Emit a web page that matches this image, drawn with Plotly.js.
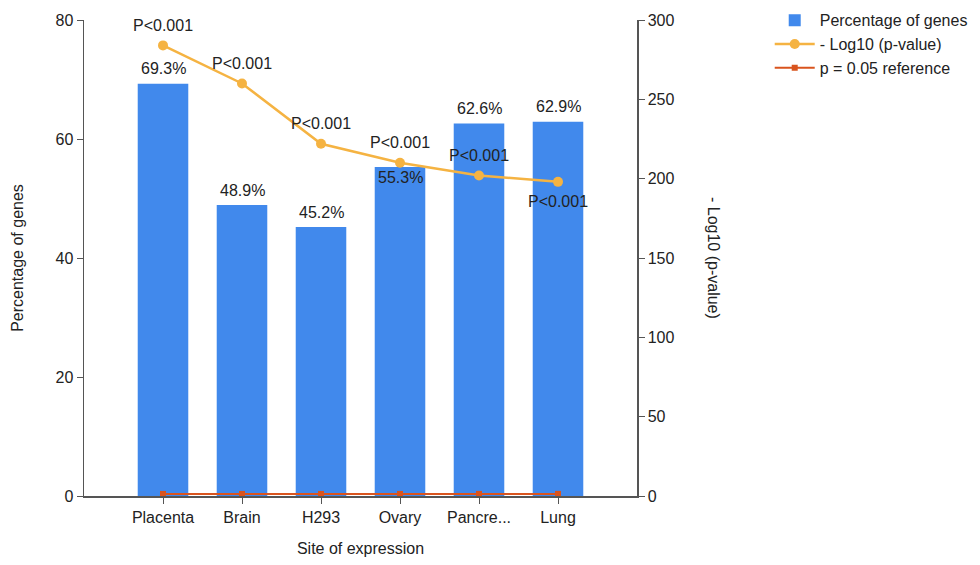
<!DOCTYPE html>
<html>
<head>
<meta charset="utf-8">
<script src="https://cdn.plot.ly/plotly-3.0.1.min.js"></script>
<style>html,body{margin:0;padding:0;background:#fff;}#chart{width:980px;height:565px;}</style>
</head>
<body>
<div id="chart"></div>
<script>
const categories = ["Placenta", "Brain", "H293", "Ovary", "Pancreas", "Lung"];
const tickLabels = ["Placenta", "Brain", "H293", "Ovary", "Pancre...", "Lung"];
const percentGenes = [69.3, 48.9, 45.2, 55.3, 62.6, 62.9];
const negLog10P = [284, 260, 222, 210, 202, 198];
const pLabels = ["P<0.001", "P<0.001", "P<0.001", "P<0.001", "P<0.001", "P<0.001"];
const refValues = [1.3, 1.3, 1.3, 1.3, 1.3, 1.3];
const pctLabelShift = [15, 15, 15, -11, 15, 15];
const pLabelShift = [20, 20, 20, 20, 20, -20];

const FONT = "Liberation Sans, Arial, sans-serif";
const AXC = "#555";
const FS = 16;

const traces = [
  {
    type: "bar", name: "Percentage of genes", x: categories, y: percentGenes,
    marker: {color: "#4189EC"}, width: 0.64, yaxis: "y", hoverinfo: "skip"
  },
  {
    type: "scatter", mode: "lines+markers", name: "- Log10 (p-value)", x: categories, y: negLog10P,
    yaxis: "y2", line: {color: "#F5B342", width: 2.5}, marker: {color: "#F5B342", size: 10}
  },
  {
    type: "scatter", mode: "lines+markers", name: "p = 0.05 reference", x: categories, y: refValues,
    yaxis: "y2", line: {color: "#D9541E", width: 2}, marker: {color: "#D9541E", size: 6, symbol: "square"}
  }
];

const annotations = [];
categories.forEach((c, i) => {
  annotations.push({x: c, y: percentGenes[i], xref: "x", yref: "y", text: percentGenes[i].toFixed(1) + "%",
    showarrow: false, yshift: pctLabelShift[i], font: {size: FS, color: "#222", family: FONT}});
  annotations.push({x: c, y: negLog10P[i], xref: "x", yref: "y2", text: pLabels[i],
    showarrow: false, yshift: pLabelShift[i], font: {size: FS, color: "#222", family: FONT}});
});
annotations.push({x: (714 - 84) / (980 - 84 - 343), y: 0.5, xref: "paper", yref: "paper", text: "- Log10 (p-value)",
  xanchor: "center", showarrow: false, textangle: 90, font: {size: FS, color: "#222", family: FONT}});

const layout = {
  width: 980, height: 565,
  margin: {l: 84, r: 343, t: 20, b: 69, autoexpand: false},
  paper_bgcolor: "#fff", plot_bgcolor: "#fff",
  font: {family: FONT, size: FS, color: "#222"},
  showlegend: true,
  legend: {x: 1.24, y: 1.035, xanchor: "left", yanchor: "top", font: {size: FS, color: "#222"},
    itemwidth: 40, tracegroupgap: 0, bgcolor: "rgba(0,0,0,0)"},
  xaxis: {
    type: "category", range: [-1, 6], tickvals: categories, ticktext: tickLabels,
    showline: true, linecolor: AXC, linewidth: 1.5, ticks: "outside", ticklen: 6, tickcolor: AXC,
    showgrid: false, zeroline: false, tickfont: {size: FS},
    title: {text: "Site of expression", font: {size: FS}, standoff: 18}
  },
  yaxis: {
    range: [0, 80], dtick: 20, showline: true, linecolor: AXC, linewidth: 1.5, ticks: "outside",
    ticklen: 6, tickcolor: AXC, showgrid: false, zeroline: false, tickfont: {size: FS},
    title: {text: "Percentage of genes", font: {size: FS}, standoff: 28}
  },
  yaxis2: {
    range: [0, 300], dtick: 50, overlaying: "y", side: "right", showline: true, linecolor: AXC,
    linewidth: 1.5, ticks: "outside", ticklen: 6, tickcolor: AXC, showgrid: false, zeroline: false,
    tickfont: {size: FS}
  },
  annotations: annotations
};

Plotly.newPlot("chart", traces, layout, {displayModeBar: false, staticPlot: true});
</script>
</body>
</html>
